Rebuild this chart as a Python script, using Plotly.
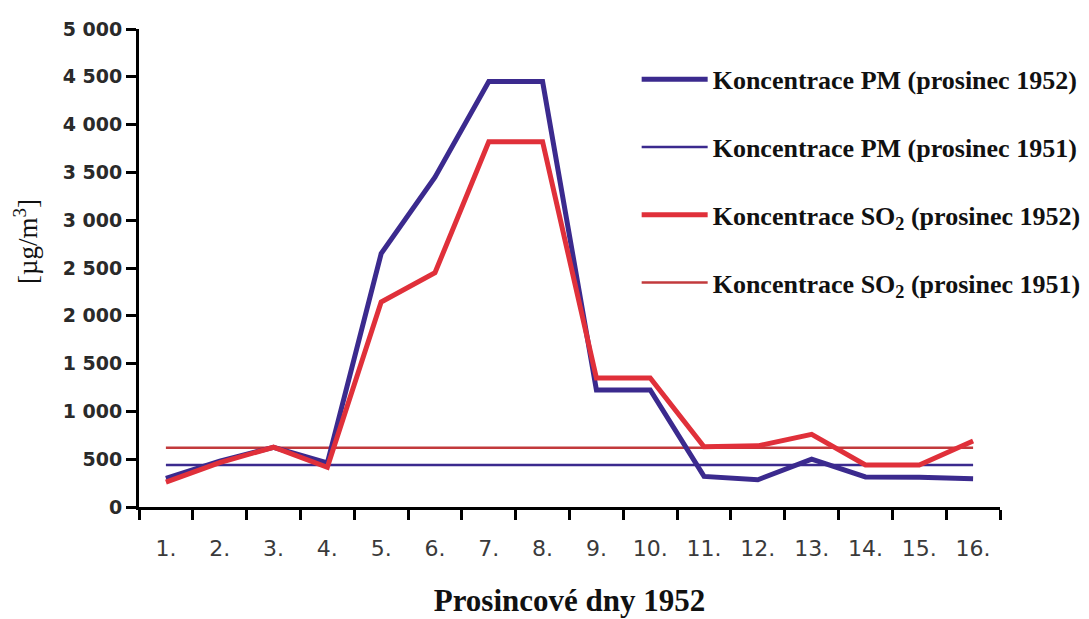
import plotly.graph_objects as go

days = ["1.", "2.", "3.", "4.", "5.", "6.", "7.", "8.", "9.", "10.", "11.", "12.", "13.", "14.", "15.", "16."]
pm_1952 = [300, 480, 625, 460, 2650, 3450, 4450, 4450, 1225, 1225, 320, 285, 500, 315, 310, 295]
so2_1952 = [260, 465, 625, 415, 2145, 2450, 3820, 3820, 1350, 1350, 630, 640, 760, 440, 440, 690]
pm_1951 = [440, 440, 440, 440, 440, 440, 440, 440, 440, 440, 440, 440, 440, 440, 440, 440]
so2_1951 = [620, 620, 620, 620, 620, 620, 620, 620, 620, 620, 620, 620, 620, 620, 620, 620]

y_tickvals = [0, 500, 1000, 1500, 2000, 2500, 3000, 3500, 4000, 4500, 5000]
y_ticktext = ["0", "500", "1 000", "1 500", "2 000", "2 500", "3 000", "3 500", "4 000", "4 500", "5 000"]

names = {
    "pm52": "Koncentrace PM (prosinec 1952)",
    "pm51": "Koncentrace PM (prosinec 1951)",
    "so52": "Koncentrace SO<sub>2</sub> (prosinec 1952)",
    "so51": "Koncentrace SO<sub>2</sub> (prosinec 1951)",
}

BLUE = "#3b2a8e"
RED = "#e0303a"
RED_THIN = "#c23a3c"

fig = go.Figure()
fig.add_trace(go.Scatter(x=days, y=pm_1951, mode="lines", name=names["pm51"], legendgroup="b",
                         line=dict(color=BLUE, width=2.5), legendrank=2))
fig.add_trace(go.Scatter(x=days, y=so2_1951, mode="lines", name=names["so51"], legendgroup="d",
                         line=dict(color=RED_THIN, width=2.5), legendrank=4))
fig.add_trace(go.Scatter(x=days, y=pm_1952, mode="lines", name=names["pm52"], legendgroup="a",
                         line=dict(color=BLUE, width=5), legendrank=1))
fig.add_trace(go.Scatter(x=days, y=so2_1952, mode="lines", name=names["so52"], legendgroup="c",
                         line=dict(color=RED, width=5), legendrank=3))

fig.update_layout(
    width=1089, height=619,
    margin=dict(l=131, r=97, t=21, b=120, autoexpand=False),
    plot_bgcolor="white", paper_bgcolor="white",
    showlegend=True,
    legend=dict(
        x=0.578, y=0.944, xanchor="left", yanchor="top",
        font=dict(family="Liberation Serif", size=26, color="#111", weight="bold"),
        tracegroupgap=31, bgcolor="rgba(0,0,0,0)", traceorder="grouped",
        itemwidth=66,
    ),
    annotations=[
        dict(text="[µg/m<sup>3</sup>]", xref="paper", yref="paper", x=-0.132, y=0.555,
             textangle=-90, showarrow=False, xanchor="center", yanchor="middle",
             font=dict(family="Liberation Serif", size=27, color="#111")),
    ],
)
fig.update_xaxes(
    type="category", range=[-0.5, 15.5], tickson="boundaries", automargin=False,
    ticks="outside", ticklen=10, tickwidth=3, tickcolor="black",
    showline=True, linecolor="black", linewidth=3, showgrid=False, zeroline=False,
    tickfont=dict(family="DejaVu Sans", size=22, color="#3a3a3a"),
    ticklabelstandoff=20,
    title=dict(text="Prosincové dny 1952", standoff=29,
               font=dict(family="Liberation Serif", size=31, color="#111", weight="bold")),
)
fig.update_yaxes(
    range=[0, 5000], tickvals=y_tickvals, ticktext=y_ticktext, automargin=False,
    ticks="outside", ticklen=10, tickwidth=3, tickcolor="black",
    showline=True, linecolor="black", linewidth=3, showgrid=False, zeroline=False,
    tickfont=dict(family="DejaVu Sans", size=19, color="#2a2a2a", weight="bold"),
)

fig.write_html("out.html")
